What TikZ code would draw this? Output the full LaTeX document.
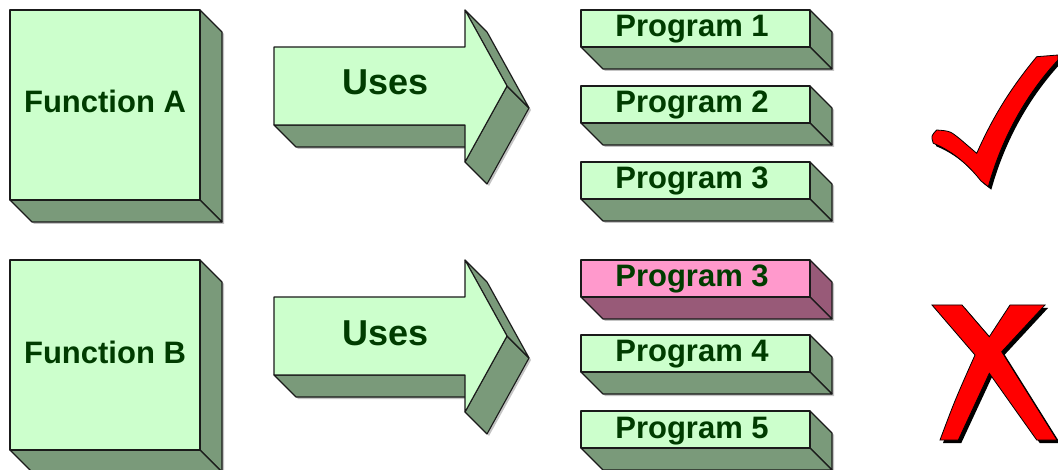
\documentclass[tikz,border=0pt]{standalone}
\usepackage{fontspec}
\setmainfont{Liberation Sans}
\definecolor{frontg}{HTML}{CCFFCC}
\definecolor{sideg}{HTML}{7A9A7A}
\definecolor{frontp}{HTML}{FF99CC}
\definecolor{sidep}{HTML}{985A78}
\definecolor{txtg}{HTML}{003C00}
\definecolor{edgec}{HTML}{1A1A1A}
\definecolor{shadowc}{HTML}{C4C4C4}
\definecolor{markred}{HTML}{FF0000}
\tikzset{
  face/.style={draw=edgec, line width=1.1pt, line join=round},
  lbl/.style={text=txtg, font=\bfseries\fontsize{31}{36}\selectfont, inner sep=0pt, anchor=base},
  biglbl/.style={lbl, font=\bfseries\fontsize{36}{40}\selectfont},
}
% #1 name, #2 x, #3 y, #4 w, #5 h, #6 depth, #7 front colour, #8 side colour
\newcommand\slab[8]{%
  \fill[shadowc] (#2+2,#3+2) -- (#2+#4+2,#3+2) -- (#2+#4+#6+2,#3+#6+2) -- (#2+#4+#6+2,#3+#5+#6+2) -- (#2+#6+2,#3+#5+#6+2) -- (#2+2,#3+#5+2) -- cycle;
  \filldraw[face, fill=#8] (#2+#4,#3) -- (#2+#4+#6,#3+#6) -- (#2+#4+#6,#3+#5+#6) -- (#2+#4,#3+#5) -- cycle;
  \filldraw[face, fill=#8] (#2,#3+#5) -- (#2+#4,#3+#5) -- (#2+#4+#6,#3+#5+#6) -- (#2+#6,#3+#5+#6) -- cycle;
  \node[face, fill=#7, anchor=north west, minimum width=#4pt, minimum height=#5pt, inner sep=0pt, outer sep=0pt] (#1) at (#2,#3) {};
}
% #1 name of the arrow
\newcommand\solidarrow[1]{%
  \fill[shadowc] (276,49) -- (467,49) -- (467,12) -- (489,34) -- (531,110) -- (489,186) -- (467,164) -- (467,149) -- (298,149) -- (276,127) -- cycle;
  \filldraw[face, fill=sideg] (274,125) -- (465,125) -- (487,147) -- (296,147) -- cycle;
  \filldraw[face, fill=sideg] (507,86) -- (529,108) -- (487,184) -- (465,162) -- cycle;
  \filldraw[face, fill=sideg] (465,10) -- (487,32) -- (529,108) -- (507,86) -- cycle;
  \filldraw[face, fill=frontg] (274,47) -- (465,47) -- (465,10) -- (507,86) -- (465,162) -- (465,125) -- (274,125) -- cycle;
}
\newcommand\checkshape[1]{%
  \path[#1] (936.7,130) .. controls (950,131) .. (960,139) -- (976.7,153.3)
    .. controls (988,128) and (1004,96) .. (1036.7,56.7) -- (1058,55) -- (1058,60)
    .. controls (1032,88) and (1004,130) .. (988.3,186.7) -- (981,181)
    .. controls (966,162) and (950,150) .. (933.3,143.3)
    .. controls (931,136) .. (936.7,130) -- cycle;
}
\newcommand\crossshape[1]{%
  \path[#1] (932,305) -- (962,305) -- (989.3,336.7) -- (1010,305) -- (1045,305)
    -- (1001.7,351.7) -- (1057,440) -- (1036.7,440) -- (989.3,373.3)
    -- (958.3,440) -- (940,440) .. controls (955,400) .. (975,355) -- cycle;
}
\begin{document}
\begin{tikzpicture}[x=1pt, y=-1pt]
  \useasboundingbox (0,0) rectangle (1058,470);
  \clip (0,0) rectangle (1058,470);
  % upper row
  \slab{fA}{10}{10}{190}{190}{22}{frontg}{sideg}
  \node[lbl] (tA) at (105,113) {Function A};
  \solidarrow{uA}
  \node[biglbl] (tuA) at (386,95) {Uses};
  \slab{p1}{581}{10}{229}{37}{22}{frontg}{sideg}
  \node[lbl] (tp1) at (692,37) {Program 1};
  \slab{p2}{581}{86}{229}{37}{22}{frontg}{sideg}
  \node[lbl] (tp2) at (692,113) {Program 2};
  \slab{p3}{581}{162}{229}{37}{22}{frontg}{sideg}
  \node[lbl] (tp3) at (692,189) {Program 3};
  \checkshape{fill=black, shift={(3,3)}}
  \checkshape{fill=markred, draw=black, line width=0.8pt}
  % lower row
  \begin{scope}[shift={(0,250)}]
    \slab{fB}{10}{10}{190}{190}{22}{frontg}{sideg}
    \node[lbl] (tB) at (105,113) {Function B};
    \solidarrow{uB}
    \node[biglbl] (tuB) at (386,95) {Uses};
    \slab{q3}{581}{10}{229}{37}{22}{frontp}{sidep}
    \node[lbl] (tq3) at (692,37) {Program 3};
    \slab{q4}{581}{85}{229}{37}{22}{frontg}{sideg}
    \node[lbl] (tq4) at (692,112) {Program 4};
    \slab{q5}{581}{161}{229}{37}{22}{frontg}{sideg}
    \node[lbl] (tq5) at (692,188) {Program 5};
  \end{scope}
  \crossshape{fill=black, shift={(3,3)}}
  \crossshape{fill=markred, draw=black, line width=0.8pt}
\end{tikzpicture}
\end{document}
